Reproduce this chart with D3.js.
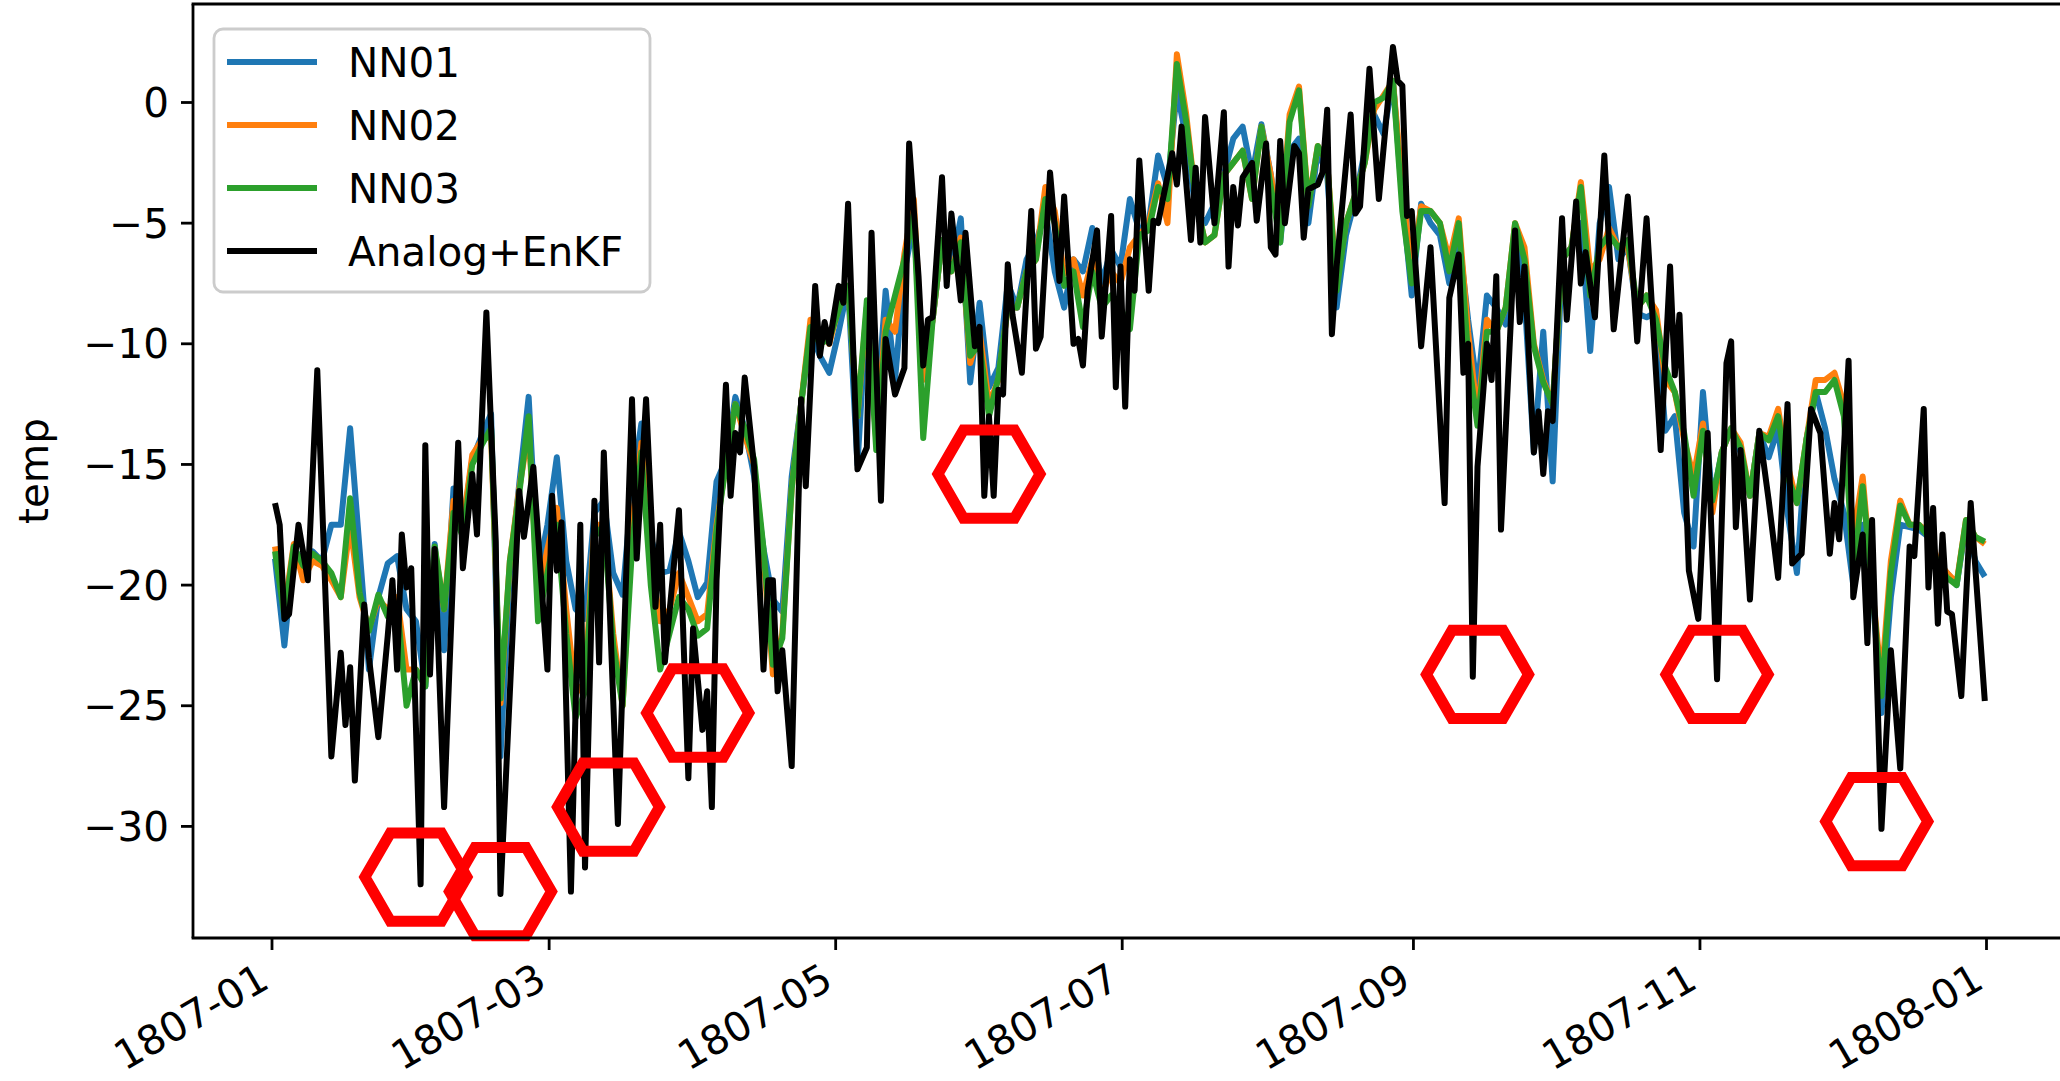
<!DOCTYPE html>
<html>
<head>
  <style>
    html, body { margin: 0; padding: 0; background: #fff; }
    svg { display: block; }
    text { font-family: "DejaVu Sans", sans-serif; fill: #000; }
  </style>
</head>
<body>
  <svg id="chart" width="2060" height="1081"></svg>

  <script src="https://d3js.org/d3.v7.min.js"></script>
  <script>
    // ---- data ----
    const tickLabels = ["1807-01", "1807-03", "1807-05", "1807-07", "1807-09", "1807-11", "1808-01"]
    const tempTicks = [0, -5, -10, -15, -20, -25, -30]
    const seriesNames = ["NN01", "NN02", "NN03", "Analog+EnKF"]
    const seriesColors = ["#1f77b4", "#ff7f0e", "#2ca02c", "#000000"]

    // NN series sampled every second day from 1807-01-01
    const nnDays = d3.range(0, 365, 2)
    const nn01 = [
      -18.9, -22.5, -18.5, -19.0, -18.6, -19.0, -17.5, -17.5, -13.5, -18.5,
      -23.5, -20.5, -19.1, -18.8, -21.0, -21.5, -24.2, -18.3, -22.7, -16.0,
      -17.5, -14.8, -13.8, -12.9, -27.1, -19.5, -15.8, -12.2, -19.5, -17.5,
      -14.7, -19.0, -21.0, -21.4, -17.0, -16.5, -19.5, -20.4, -16.0, -13.3,
      -18.0, -19.5, -19.4, -17.8, -19.0, -20.5, -19.9, -15.7, -14.8, -12.2,
      -13.5, -15.5, -18.5, -20.6, -21.1, -15.5, -12.5, -9.5, -10.5, -11.2,
      -9.5, -7.6, -15.0, -8.5, -13.0, -7.8, -11.5, -7.0, -5.0, -11.4,
      -9.0, -5.7, -6.8, -4.8, -11.6, -8.3, -11.8, -11.0, -7.5, -8.5,
      -6.5, -5.8, -4.5, -7.0, -8.5, -6.5, -7.0, -5.2, -7.5, -6.1,
      -6.8, -4.0, -5.3, -5.0, -2.2, -3.5, 0.5, -1.5, -4.5, -5.0,
      -4.2, -3.0, -1.5, -1.0, -3.0, -0.9, -3.0, -5.8, -2.0, -1.5,
      -5.0, -2.0, -3.0, -8.5, -5.5, -4.0, -2.0, -0.5, -1.3, 0.9,
      -4.0, -8.0, -4.2, -5.0, -5.5, -7.5, -5.5, -9.0, -11.9, -8.0,
      -8.5, -9.2, -5.2, -8.0, -14.5, -9.5, -15.7, -6.5, -6.0, -5.0,
      -10.3, -5.0, -3.5, -6.5, -6.0, -8.75, -8.9, -8.7, -13.6, -13.0,
      -17.0, -18.4, -12.0, -16.5, -14.5, -13.5, -14.5, -16.3, -13.7, -14.7,
      -13.5, -17.0, -19.5, -14.0, -12.0, -13.5, -15.6, -17.0, -20.0, -17.5,
      -20.0, -25.3, -20.5, -17.5, -17.6, -17.7, -18.0, -19.1, -19.5, -20.0,
      -17.5, -19.0, -19.65
    ]
    const nn02 = [
      -18.4, -21.0, -18.3, -19.8, -19.0, -19.2, -19.8, -20.5, -17.5, -20.5,
      -21.8, -20.6, -21.0, -20.5, -23.5, -23.5, -24.0, -18.5, -21.0, -16.5,
      -17.5, -14.6, -14.0, -13.8, -24.9, -19.0, -16.0, -13.6, -20.5, -18.5,
      -16.8, -21.0, -24.5, -24.0, -17.5, -17.5, -22.0, -25.0, -17.5, -14.1,
      -19.0, -21.5, -21.0, -19.5, -20.5, -21.5, -21.2, -17.5, -15.0, -12.5,
      -13.8, -15.0, -18.8, -23.7, -22.0, -16.0, -12.5, -9.0, -9.5, -10.0,
      -8.5, -7.6, -13.0, -8.5, -14.0, -9.0, -9.5, -6.25, -4.0, -11.5,
      -9.0, -5.7, -7.0, -5.6, -10.8, -9.5, -12.5, -11.5, -8.5, -8.5,
      -7.0, -6.5, -3.5, -4.5, -7.1, -6.5, -8.0, -6.5, -8.0, -7.0,
      -7.5, -6.0, -5.5, -5.0, -3.35, -5.0, 2.0, -0.5, -4.0, -5.8,
      -5.5, -3.0, -2.5, -2.0, -4.0, -1.0, -3.0, -5.5, -0.5, 0.66,
      -4.2, -1.8, -2.5, -7.5, -5.0, -3.8, -2.5, -0.3, 0.3, 0.9,
      -3.5, -7.0, -4.3, -4.5, -5.0, -6.5, -4.8, -9.5, -13.0, -9.0,
      -9.5, -8.5, -5.0, -6.0, -10.0, -11.5, -12.5, -6.5, -6.0, -3.3,
      -7.0, -6.5, -5.2, -6.0, -6.0, -8.5, -8.0, -8.6, -11.5, -12.0,
      -14.0, -15.5, -13.3, -17.0, -14.5, -13.5, -14.1, -16.3, -13.7, -13.85,
      -12.7, -15.0, -16.6, -14.0, -11.5, -11.5, -11.2, -12.5, -18.0, -15.5,
      -20.0, -24.0, -19.0, -16.5, -17.5, -17.5, -17.8, -19.0, -19.5, -19.9,
      -17.3, -18.0, -18.3
    ]
    const nn03 = [
      -18.6, -21.3, -18.4, -19.2, -18.7, -19.0, -19.5, -20.5, -16.4, -20.3,
      -21.9, -20.4, -21.3, -20.8, -25.0, -23.5, -24.2, -18.4, -21.0, -17.0,
      -18.0, -15.0, -14.2, -13.5, -24.7, -19.0, -16.2, -13.0, -21.5, -19.5,
      -17.5, -22.0, -25.5, -24.4, -18.0, -17.5, -22.5, -25.0, -18.5, -14.5,
      -20.0, -23.5, -22.0, -20.5, -21.0, -22.1, -21.8, -17.7, -15.0, -12.5,
      -13.5, -14.8, -18.5, -23.3, -22.2, -16.0, -12.5, -9.3, -10.0, -9.8,
      -8.6, -7.6, -13.0, -8.2, -14.4, -9.5, -8.0, -6.5, -4.6, -13.9,
      -9.0, -5.7, -7.0, -5.8, -10.5, -10.0, -13.0, -11.4, -8.5, -8.5,
      -7.0, -6.5, -4.0, -5.0, -7.6, -7.0, -9.3, -7.0, -8.5, -8.0,
      -8.5, -9.4, -5.5, -5.3, -3.5, -4.0, 1.6, -0.8, -4.0, -5.8,
      -5.5, -3.0, -2.5, -2.0, -4.0, -1.0, -3.5, -5.8, -0.8, 0.5,
      -4.3, -1.8, -2.5, -7.8, -5.0, -3.8, -2.5, 0.0, 0.2, 0.9,
      -4.5, -7.5, -4.5, -4.5, -5.0, -7.0, -5.0, -10.5, -13.4, -9.5,
      -9.5, -8.5, -5.0, -6.5, -10.1, -11.6, -12.5, -6.5, -6.0, -3.5,
      -8.0, -6.0, -5.5, -6.0, -5.7, -8.5, -8.0, -9.0, -11.0, -12.0,
      -13.7, -16.3, -13.6, -16.5, -14.5, -13.5, -14.3, -16.3, -13.7, -14.0,
      -13.0, -15.5, -16.6, -14.0, -12.0, -12.0, -11.5, -13.0, -19.5, -15.9,
      -20.0, -24.6, -19.5, -16.7, -17.5, -17.5, -18.0, -19.1, -19.7, -20.0,
      -17.3, -18.0, -18.2
    ]

    // Analog+EnKF: day offset from 1807-01-01 and value at each turning point
    const analogDays = [
      0, 1, 2, 3, 5, 7, 9, 12, 14, 15, 16, 17, 19, 20, 22, 24, 25, 26, 27, 28, 29,
      31, 32, 33, 34, 36, 39, 40, 42, 43, 45, 47, 48, 52, 53, 55, 58, 59,
      60, 61, 63, 65, 66, 68, 69, 70, 73, 76, 77, 79, 81, 82, 83, 86, 88, 89,
      91, 92, 93, 94, 96, 97, 98, 99, 100, 102, 104, 105, 106, 107, 108, 110, 112, 113, 115, 116, 117, 118,
      120, 121, 122, 124, 126, 127, 129, 130, 132, 134, 135, 137, 138, 139, 140, 142, 143, 144, 146, 147, 149, 150,
      151, 152, 153, 154, 155, 156, 157, 159, 161, 162, 163, 165, 167, 168, 170, 171, 172, 173, 175, 176, 178, 179, 180,
      181, 182, 183, 184, 186, 187, 188, 191, 192, 193, 195, 196, 197, 198, 200, 202, 203, 204, 205, 206, 208, 209, 211,
      212, 213, 214, 215, 217, 218, 219, 220, 222, 223, 224, 225, 226, 229, 230, 231, 233, 235, 238, 239, 240,
      241, 242, 244, 246, 249, 250, 252, 253, 254, 255, 256, 258, 259, 260, 261, 264, 265, 266, 268, 269, 270, 271, 272,
      274, 275, 277, 278, 279, 281, 283, 285, 288, 290, 292, 295, 297, 298, 299, 301, 303,
      305, 307, 309, 310, 311, 312, 314, 316, 318, 320, 322, 323, 325, 327, 329, 331, 332, 333,
      335, 336, 338, 339, 340, 342, 344, 346, 348, 349, 351, 352, 353, 354, 355, 356, 357, 359, 361, 364
    ]
    const analogTemps = [
      -16.6, -17.5, -21.4, -21.2, -17.5, -19.8, -11.1, -27.1, -22.8, -25.8, -23.4, -28.1, -20.8, -23.0, -26.3, -22.1, -19.8, -23.5, -17.9, -20.1, -19.3,
      -32.4, -14.2, -23.7, -18.5, -29.2, -14.1, -19.3, -15.4, -17.9, -8.7, -18.2, -32.8, -16.1, -18.0, -15.1, -23.5, -16.3,
      -19.4, -17.4, -32.7, -17.5, -31.7, -16.5, -23.2, -14.5, -29.9, -12.3, -18.9, -12.3, -20.9, -17.5, -23.2, -16.9, -28.0, -21.8,
      -26.0, -24.4, -29.2, -19.8, -11.7, -16.3, -13.7, -14.5, -11.4, -15.1, -23.5, -19.8, -19.8, -24.4, -22.7, -27.5, -12.3, -15.9, -7.6, -10.5, -9.1, -10.0,
      -7.6, -8.3, -4.2, -15.2, -14.3, -5.4, -16.5, -9.8, -12.1, -11.0, -1.7, -7.2, -10.9, -9.0, -8.9, -3.1, -7.6, -4.6, -8.2, -5.4, -10.1, -9.3,
      -16.3, -13.0, -16.3, -11.9, -12.1, -6.7, -8.8, -11.2, -4.5, -10.2, -9.7, -2.9, -7.4, -3.9, -10.0, -9.8, -10.9, -7.8, -5.3, -9.7, -4.7, -11.8, -6.8,
      -12.6, -6.5, -7.8, -2.4, -7.8, -4.9, -5.0, -2.1, -3.4, -1.0, -5.7, -2.7, -5.8, -0.6, -5.0, -0.4, -6.8, -3.5, -5.1, -3.1, -2.5, -4.9, -1.7,
      -6.0, -6.3, -1.6, -5.0, -1.8, -2.1, -5.6, -3.6, -3.4, -2.9, -0.3, -9.6, -6.8, -0.5, -4.6, -4.3, 1.4, -4.0, 2.3, 0.9, 0.7,
      -4.7, -4.5, -10.1, -6.0, -16.6, -8.1, -6.3, -11.2, -10.0, -23.8, -15.1, -10.0, -11.5, -7.2, -17.7, -5.3, -9.1, -6.8, -14.5, -12.8, -15.4, -12.8, -13.2,
      -4.8, -9.0, -4.1, -7.5, -6.2, -8.9, -2.2, -9.4, -3.9, -9.9, -4.8, -14.4, -6.8, -11.3, -8.8, -19.4, -21.4,
      -13.7, -23.9, -10.8, -9.9, -17.6, -14.4, -20.6, -13.6, -16.5, -19.7, -12.5, -19.1, -18.7, -12.7, -13.7, -18.7, -16.6, -18.1,
      -10.7, -20.5, -17.9, -22.4, -17.3, -30.1, -22.7, -27.6, -18.4, -18.8, -12.7, -20.1, -16.8, -21.6, -17.9, -21.1, -21.2, -24.6, -16.6, -24.8
    ]

    // red hexagon marks (centre day, centre value)
    const markDays = [30, 48, 71, 90, 152, 256, 307, 341]
    const markTemps = [-32.1, -32.7, -29.2, -25.3, -15.4, -23.7, -23.7, -29.8]

    // ---- layout ----
    const W = 2060, H = 1081
    const plotLeft = 193, plotTop = 4, plotBottom = 938, plotRight = 2075
    const fontSize = 40.5
    const lineW = 6
    const tickLen = 12

    const start = new Date(1807, 0, 1)
    const dayDate = d => d3.timeDay.offset(start, d)
    const parseMonth = d3.timeParse("%Y-%m")

    const x = d3.scaleTime()
      .domain([new Date(1807, 0, 1), new Date(1808, 0, 1)])
      .range([272, 1986.5])
    const y = d3.scaleLinear()
      .domain([-30, 0])
      .range([826.4, 102.5])

    const svg = d3.select("#chart")
    svg.append("rect").attr("width", W).attr("height", H).attr("fill", "#fff")

    // series lines (data starts a little right of the first tick in the figure)
    const xOff = 3
    const line = d3.line().x(d => x(d[0]) + xOff).y(d => y(d[1]))
    const nnSeries = [nn01, nn02, nn03]
    const plot = svg.append("g")
    nnSeries.forEach((vals, i) => {
      const pts = nnDays.map((d, j) => [dayDate(d), vals[j]])
      plot.append("path")
        .attr("d", line(pts))
        .attr("fill", "none")
        .attr("stroke", seriesColors[i])
        .attr("stroke-width", lineW)
        .attr("stroke-linejoin", "round")
    })
    const analogPts = analogDays.map((d, j) => [dayDate(d), analogTemps[j]])
    plot.append("path")
      .attr("d", line(analogPts))
      .attr("fill", "none")
      .attr("stroke", seriesColors[3])
      .attr("stroke-width", lineW)
      .attr("stroke-linejoin", "round")

    // hexagon marks
    const hexR = 51
    const hexLine = d3.line().curve(d3.curveLinearClosed)
    markDays.forEach((d, i) => {
      const cx = x(dayDate(d)) + xOff, cy = y(markTemps[i])
      const verts = d3.range(6).map(k => {
        const a = k * Math.PI / 3
        return [cx + hexR * Math.cos(a), cy + hexR * Math.sin(a)]
      })
      svg.append("path")
        .attr("d", hexLine(verts))
        .attr("fill", "none")
        .attr("stroke", "#ff0000")
        .attr("stroke-width", 11)
        .attr("stroke-linejoin", "miter")
    })

    // spines
    const spineW = 2.8
    svg.append("line").attr("x1", plotLeft).attr("x2", plotLeft).attr("y1", plotTop).attr("y2", plotBottom)
      .attr("stroke", "#000").attr("stroke-width", spineW)
    svg.append("line").attr("x1", plotLeft - spineW / 2).attr("x2", plotRight).attr("y1", plotBottom).attr("y2", plotBottom)
      .attr("stroke", "#000").attr("stroke-width", spineW)
    svg.append("line").attr("x1", plotLeft - spineW / 2).attr("x2", plotRight).attr("y1", plotTop).attr("y2", plotTop)
      .attr("stroke", "#000").attr("stroke-width", spineW)

    // y axis
    const yAxis = svg.append("g")
    tempTicks.forEach(t => {
      yAxis.append("line")
        .attr("x1", plotLeft - tickLen).attr("x2", plotLeft)
        .attr("y1", y(t)).attr("y2", y(t))
        .attr("stroke", "#000").attr("stroke-width", spineW)
      yAxis.append("text")
        .attr("x", plotLeft - tickLen - 12)
        .attr("y", y(t))
        .attr("dy", "0.36em")
        .attr("text-anchor", "end")
        .attr("font-size", fontSize)
        .text(t < 0 ? "\u2212" + Math.abs(t) : String(t))
    })
    svg.append("text")
      .attr("transform", `translate(33, ${(plotTop + plotBottom) / 2}) rotate(-90)`)
      .attr("text-anchor", "middle")
      .attr("dy", "0.36em")
      .attr("font-size", fontSize)
      .text("temp")

    // x axis
    const xAxis = svg.append("g")
    tickLabels.forEach(lbl => {
      const tx = x(parseMonth(lbl))
      xAxis.append("line")
        .attr("x1", tx).attr("x2", tx)
        .attr("y1", plotBottom).attr("y2", plotBottom + tickLen)
        .attr("stroke", "#000").attr("stroke-width", spineW)
      xAxis.append("text")
        .attr("transform", `translate(${tx - 16}, 960) rotate(-30)`)
        .attr("text-anchor", "end")
        .attr("dy", "0.76em")
        .attr("font-size", fontSize)
        .text(lbl)
    })

    // legend
    const legend = svg.append("g")
    legend.append("rect")
      .attr("x", 214).attr("y", 29).attr("width", 436).attr("height", 263)
      .attr("rx", 9)
      .attr("fill", "#fff").attr("fill-opacity", 0.8)
      .attr("stroke", "#cccccc").attr("stroke-width", 2.8)
    seriesNames.forEach((name, i) => {
      const ly = 62 + i * 63
      legend.append("line")
        .attr("x1", 227).attr("x2", 317).attr("y1", ly).attr("y2", ly)
        .attr("stroke", seriesColors[i]).attr("stroke-width", lineW)
      legend.append("text")
        .attr("x", 348).attr("y", ly).attr("dy", "0.36em")
        .attr("font-size", fontSize)
        .text(name)
    })
  </script>
</body>
</html>
